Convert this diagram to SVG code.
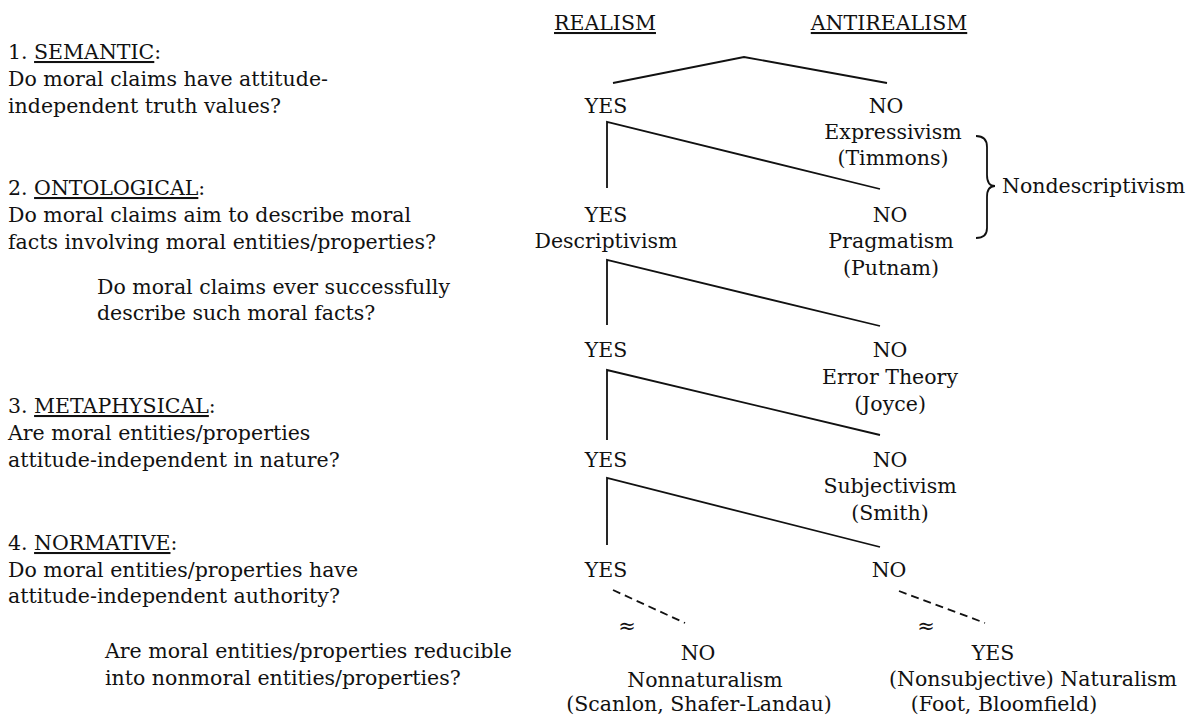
<svg xmlns="http://www.w3.org/2000/svg" width="1194" height="715" viewBox="0 0 1194 715">
<style>
text{font-family:"DejaVu Serif","Liberation Serif",serif;font-size:20.5px;fill:#111}
.m{text-anchor:middle}
.u{text-decoration:underline}
.ln{fill:none;stroke:#111;stroke-width:1.8}
.d{stroke-dasharray:8 5}
.apx{font-size:21px}
</style>
<rect width="1194" height="715" fill="#fff"/>
<g id="questions">
<g id="q1"><text x="8" y="59">1. <tspan class="u">SEMANTIC</tspan>:</text><text x="8" y="86">Do moral claims have attitude-</text><text x="8" y="113">independent truth values?</text></g>
<g id="q2"><text x="8" y="195">2. <tspan class="u">ONTOLOGICAL</tspan>:</text><text x="8" y="222">Do moral claims aim to describe moral</text><text x="8" y="249">facts involving moral entities/properties?</text></g>
<g id="q2b"><text x="97" y="294">Do moral claims ever successfully</text><text x="97" y="320">describe such moral facts?</text></g>
<g id="q3"><text x="8" y="413">3. <tspan class="u">METAPHYSICAL</tspan>:</text><text x="8" y="440">Are moral entities/properties</text><text x="8" y="467">attitude-independent in nature?</text></g>
<g id="q4"><text x="8" y="550">4. <tspan class="u">NORMATIVE</tspan>:</text><text x="8" y="577">Do moral entities/properties have</text><text x="8" y="603">attitude-independent authority?</text></g>
<g id="q4b"><text x="105" y="658">Are moral entities/properties reducible</text><text x="105" y="685">into nonmoral entities/properties?</text></g>
</g>
<g id="headers">
<text id="h-realism" class="m" x="605" y="30"><tspan class="u">REALISM</tspan></text>
<text id="h-antirealism" class="m" x="889" y="30"><tspan class="u">ANTIREALISM</tspan></text>
</g>
<g id="connectors">
<path class="ln" d="M613,83 L744,57 L887,83"/>
<path class="ln" d="M607,188 V122 L880,189"/>
<path class="ln" d="M607,325 V260 L880,326"/>
<path class="ln" d="M607,440 V370 L880,435"/>
<path class="ln" d="M607,545 V478 L880,547"/>
<path class="ln d" d="M613,590 L685,623"/>
<path class="ln d" d="M899,591 L985,623"/>
<path id="brace" class="ln" d="M976,136 C984,136 987,140 987,147 L987,175 C987,182 990,186 995,186 C990,186 987,190 987,197 L987,228 C987,234 984,238 976,238"/>
</g>
<g id="n1-yes"><text class="m" x="606" y="113">YES</text></g>
<g id="n1-no"><text class="m" x="886" y="113">NO</text><text class="m" x="893" y="139">Expressivism</text><text class="m" x="893" y="165">(Timmons)</text></g>
<g id="n2-yes"><text class="m" x="606" y="222">YES</text><text class="m" x="606" y="248">Descriptivism</text></g>
<g id="n2-no"><text class="m" x="890" y="222">NO</text><text class="m" x="891" y="248">Pragmatism</text><text class="m" x="891" y="275">(Putnam)</text></g>
<g id="n3-yes"><text class="m" x="606" y="357">YES</text></g>
<g id="n3-no"><text class="m" x="890" y="357">NO</text><text class="m" x="890" y="384">Error Theory</text><text class="m" x="890" y="411">(Joyce)</text></g>
<g id="n4-yes"><text class="m" x="606" y="467">YES</text></g>
<g id="n4-no"><text class="m" x="890" y="467">NO</text><text class="m" x="890" y="493">Subjectivism</text><text class="m" x="890" y="520">(Smith)</text></g>
<g id="n5-yes"><text class="m" x="606" y="577">YES</text></g>
<g id="n5-no"><text class="m" x="889" y="577">NO</text></g>
<g id="approx"><text class="m apx" x="627" y="633">≈</text><text class="m apx" x="926" y="633">≈</text></g>
<g id="n6-nonnat"><text class="m" x="698" y="660">NO</text><text class="m" x="705" y="687">Nonnaturalism</text><text class="m" x="699" y="711">(Scanlon, Shafer-Landau)</text></g>
<g id="n6-nat"><text class="m" x="993" y="660">YES</text><text class="m" x="1033" y="686">(Nonsubjective) Naturalism</text><text class="m" x="1004" y="711">(Foot, Bloomfield)</text></g>
<g id="nondescriptivism"><text x="1002" y="193">Nondescriptivism</text></g>
</svg>
